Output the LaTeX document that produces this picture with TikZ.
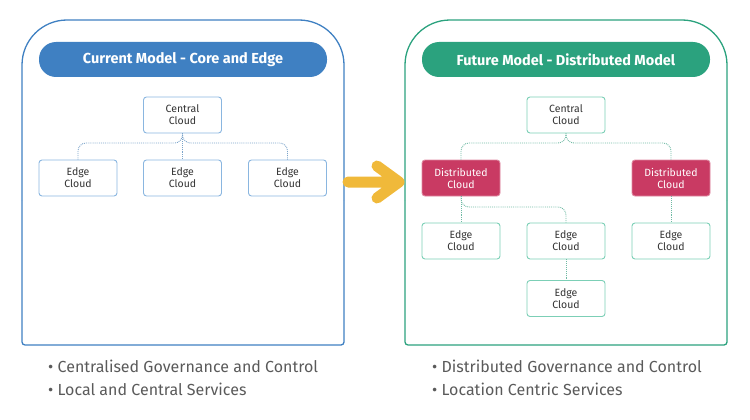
\documentclass[tikz,border=0pt]{standalone}
\usepackage{fontspec}
\setmainfont{Fira Sans}
\usetikzlibrary{positioning}
\definecolor{curblue}{HTML}{3F80C2}
\definecolor{curline}{HTML}{8AB6E0}
\definecolor{futgreen}{HTML}{2BA27E}
\definecolor{futline}{HTML}{7CCFB6}
\definecolor{distred}{HTML}{C93A63}
\definecolor{arrowyel}{HTML}{F0B93A}
\definecolor{txtgray}{HTML}{5A5A5A}
\begin{document}
\begin{tikzpicture}[x=1pt, y=-1pt,
            cloud/.style={draw, rounded corners=3pt, line width=0.9pt, fill=white, minimum width=78pt, minimum height=36pt,
                inner sep=0pt, align=center, text=black!80, font=\fontsize{10.5}{12}\selectfont},
            dist/.style={cloud, draw=distred!60, fill=distred, text=white},
            pill/.style={rounded corners=17pt, minimum width=288pt, minimum height=35pt, text=white,
                font=\fontsize{14.5}{16}\selectfont\bfseries},
            panel/.style={line width=1.3pt},
            link/.style={densely dotted, line width=0.9pt, rounded corners=8pt},
            bullet/.style={anchor=west, text=txtgray, font=\fontsize{16}{20}\selectfont, inner sep=0pt},
        ]
        \useasboundingbox (0,0) rectangle (750,420);
        % Panels (big round top corners, small bottom corners)
        \draw[panel, curblue, rounded corners=45pt] (22,200) |- (183,20) -| (344,200);
        \draw[panel, curblue, rounded corners=3pt] (22,200) |- (183,345) -| (344,200);
        \draw[panel, futgreen, rounded corners=45pt] (405,200) |- (566,20) -| (727,200);
        \draw[panel, futgreen, rounded corners=3pt] (405,200) |- (566,345) -| (727,200);
        \node[pill, fill=curblue] (curhead) at (183,59.5) {Current Model - Core and Edge};
        \node[pill, fill=futgreen] (futhead) at (566,59.5) {Future Model - Distributed Model};
        % Current model
        \node[cloud, draw=curline] (cc) at (182.5,115) {Central\\Cloud};
        \node[cloud, draw=curline] (ce1) at (78,178) {Edge\\Cloud};
        \node[cloud, draw=curline] (ce2) at (182.5,178) {Edge\\Cloud};
        \node[cloud, draw=curline] (ce3) at (287.5,178) {Edge\\Cloud};
        \coordinate (cbar) at (182.5,143);
        \draw[link, curline!90!black] (ce1.north) |- (cbar) -- (cc.south);
        \draw[link, curline!90!black] (ce3.north) |- (cbar) -- (cc.south);
        \draw[link, curline!90!black] (cc.south) -- (ce2.north);
        % Future model
        \node[cloud, draw=futline] (fc) at (566,115) {Central\\Cloud};
        \node[dist] (fd1) at (461,178) {Distributed\\Cloud};
        \node[dist] (fd2) at (671,178) {Distributed\\Cloud};
        \node[cloud, draw=futline] (fe1) at (461,241) {Edge\\Cloud};
        \node[cloud, draw=futline] (fe2) at (566,241) {Edge\\Cloud};
        \node[cloud, draw=futline] (fe3) at (671,241) {Edge\\Cloud};
        \node[cloud, draw=futline] (fe4) at (566,298.5) {Edge\\Cloud};
        \coordinate (fbar) at (566,143);
        \coordinate (dbar) at (461,207);
        \draw[link, futline!90!black] (fd1.north) |- (fbar) -- (fc.south);
        \draw[link, futline!90!black] (fd2.north) |- (fbar) -- (fc.south);
        \draw[link, futline!90!black] (fd1.south) -- (fe1.north);
        \draw[link, futline!90!black] (fd1.south) -- (dbar) -| (fe2.north);
        \draw[link, futline!90!black] (fd2.south) -- (fe3.north);
        \draw[link, futline!90!black] (fe2.south) -- (fe4.north);
        % Yellow arrow between the panels
        \coordinate (atail) at (348,182);
        \coordinate (atip) at (399,182);
        \draw[arrowyel, line width=11pt, line cap=round, line join=round]
            (atail) -- (atip) (377,166) -- (atip) -- (377,198);
        % Bullet lists
        \node[bullet] (cb1) at (48,366) {• Centralised Governance and Control};
        \node[bullet] (cb2) at (48,389) {• Local and Central Services};
        \node[bullet] (fb1) at (432,366) {• Distributed Governance and Control};
        \node[bullet] (fb2) at (432,389) {• Location Centric Services};
    \end{tikzpicture}
\end{document}
